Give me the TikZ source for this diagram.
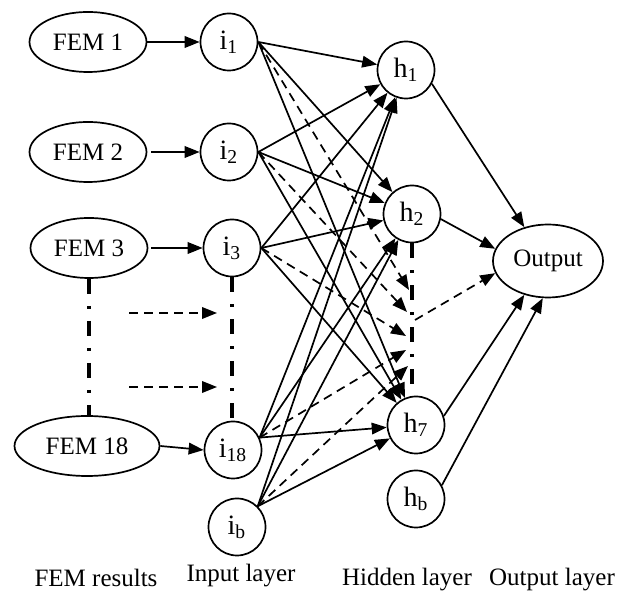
\documentclass[tikz,border=0pt]{standalone}
\usepackage{fontspec}
\setmainfont{Liberation Serif}
\usetikzlibrary{shapes.geometric,arrows.meta}
\begin{document}
\begin{tikzpicture}[x=0.5pt,y=-0.5pt,
  fem/.style={ellipse,draw,line width=0.85pt,minimum width=58.5pt,minimum height=30pt,inner sep=0pt,font=\fontsize{12.5}{14}\selectfont},
  neuron/.style={circle,draw,line width=0.85pt,minimum size=28.5pt,inner sep=0pt,font=\fontsize{14}{16}\selectfont},
  con/.style={line width=0.85pt,-{Triangle[length=7.5pt,width=5.8pt]}},
  dcon/.style={con,dash pattern=on 4.5pt off 3pt},
  dashdot/.style={line width=1.7pt,dash pattern=on 7.5pt off 6pt on 1.5pt off 6pt},
  lab/.style={anchor=base,font=\fontsize{12.5}{14}\selectfont}]
\useasboundingbox (0,0) rectangle (622,592);
% FEM result nodes
\node[fem] (F1) at (88,42) {FEM 1};
\node[fem] (F2) at (88,152) {FEM 2};
\node[fem] (F3) at (89,248) {FEM 3};
\node[fem,minimum width=72.5pt] (F18) at (87,446) {FEM 18};
% input layer
\node[neuron] (i1) at (229,42) {i\textsubscript{1}};
\node[neuron] (i2) at (229,152) {i\textsubscript{2}};
\node[neuron] (i3) at (232,248) {i\textsubscript{3}};
\node[neuron] (i18) at (233,450) {i\textsubscript{18}};
\node[neuron] (ib) at (237,527) {i\textsubscript{b}};
% hidden layer
\node[neuron] (h1) at (406,70) {h\textsubscript{1}};
\node[neuron] (h2) at (412,214) {h\textsubscript{2}};
\node[neuron] (h7) at (416,425) {h\textsubscript{7}};
\node[neuron] (hb) at (416,499) {h\textsubscript{b}};
% output
\node[ellipse,draw,line width=0.85pt,minimum width=55pt,minimum height=36.5pt,inner sep=0pt,font=\fontsize{12.5}{14}\selectfont] (Out) at (548,261) {Output};
% FEM -> input
\draw[con] (F1.east) -- (i1.west);
\draw[con] (F2.east) ++(4,0) -- (i2.west);
\draw[con] (F3.east) ++(3,0) -- (i3.west);
\draw[con] (F18.east) -- (i18.west);
% dash-dot continuation lines
\draw[dashdot] (F3.south) -- (F3.south |- F18.north);
\draw[dashdot] (i3.south) -- (i3.south |- i18.north);
\draw[dashdot] (h2.south) -- (h2.south |- h7.north);
% dashed arrows between columns
\coordinate (a1) at (129,313); \coordinate (a2) at (217,313);
\coordinate (b1) at (129,387); \coordinate (b2) at (217,387);
\draw[dcon] (a1) -- (a2);
\draw[dcon] (b1) -- (b2);
% targets on the hidden dash-dot line
\coordinate (d1) at (409,290);
\coordinate (d2) at (407,312);
\coordinate (d3) at (406,336);
\coordinate (d4) at (406,350);
\coordinate (d5) at (408,366);
\coordinate (dm) at (415,320);
% input -> hidden
\foreach \s/\d in {i1.0/d1, i2.0/d2, i3.0/d3, i18.25/d4, ib.45/d5} {
  \draw[con] (\s) -- (h1);
  \draw[con] (\s) -- (h2);
  \draw[con] (\s) -- (h7);
  \draw[dcon] (\s) -- (\d);
}
% hidden -> output
\draw[con] (h1.-28) -- (Out.125);
\draw[con] (h2.-10) -- (Out.167);
\draw[dcon] (dm) -- (Out.193);
\draw[con] (h7.18) -- (Out.235);
\draw[con] (hb.28) -- (Out.262);
% layer labels
\node[lab] (l1) at (96,587) {FEM results};
\node[lab] (l2) at (241,582) {Input layer};
\node[lab] (l3) at (407,586) {Hidden layer};
\node[lab] (l4) at (552,586) {Output layer};
\end{tikzpicture}
\end{document}
